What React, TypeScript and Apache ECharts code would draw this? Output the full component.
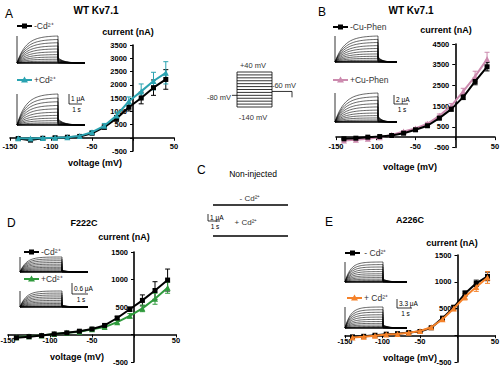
import React, { useEffect, useRef } from "react";
import * as echarts from "echarts";

const FONT = '"Liberation Sans", Arial, sans-serif';

// Test potentials (mV)
const voltages = [-140, -125, -110, -95, -80, -65, -50, -35, -20, -5, 10, 25, 40];

// Panel A: WT Kv7.1, -Cd / +Cd
const aCtrl = [-30, -90, -20, 0, 20, 50, 170, 400, 730, 1150, 1500, 1890, 2200];
const aCtrlErr = [20, 20, 20, 20, 20, 30, 50, 80, 110, 140, 220, 290, 370];
const aCd = [-20, -30, -10, 0, 20, 70, 210, 450, 840, 1380, 1750, 2140, 2450];
const aCdErr = [20, 20, 20, 20, 20, 30, 60, 90, 130, 160, 280, 330, 420];

// Panel B: WT Kv7.1, -Cu-Phen / +Cu-Phen
const bCtrl = [-80, -50, 0, 30, 80, 190, 355, 550, 920, 1355, 1935, 2690, 3400];
const bCtrlErr = [20, 20, 20, 20, 20, 30, 40, 60, 80, 100, 120, 160, 200];
const bCu = [-160, -130, -80, -10, 110, 270, 420, 645, 1030, 1516, 2210, 2935, 3770];
const bCuErr = [30, 30, 30, 30, 30, 40, 50, 70, 90, 110, 150, 250, 330];

// Panel D: F222C
const dCtrl = [-60, -40, -20, 10, 30, 60, 100, 165, 300, 460, 620, 800, 990];
const dCtrlErr = [10, 10, 10, 10, 10, 15, 20, 25, 30, 40, 100, 160, 200];
const dCd = [-50, -30, -20, 10, 30, 50, 95, 135, 225, 340, 475, 650, 850];
const dCdErr = [10, 10, 10, 10, 10, 15, 20, 25, 30, 40, 60, 100, 100];

// Panel E: A226C
const eCtrl = [-30, -20, 0, 20, 30, 50, 70, 140, 320, 520, 780, 970, 1100];
const eCtrlErr = [10, 10, 10, 10, 10, 10, 15, 20, 30, 40, 50, 60, 80];
const eCd = [-40, -30, -10, 15, 25, 45, 80, 150, 300, 500, 720, 900, 1080];
const eCdErr = [10, 10, 10, 10, 10, 10, 15, 20, 30, 40, 60, 80, 110];

// Axis ranges
const xRange = { min: -150, max: 50, interval: 50 };
const yRangeA = { min: -500, max: 3500, interval: 500 };
const yRangeB = { min: -500, max: 4500, interval: 1000 };
const yRangeD = { min: -500, max: 1500, interval: 500 };
const yRangeE = { min: -500, max: 1500, interval: 500 };

// Protocol step potentials (mV)
const protocolSteps = [40, 25, 10, -5, -20, -35, -50, -65, -80, -95, -110, -125, -140];
const holdingMv = -80;
const tailMv = -60;

// relative amplitude of inset current sweeps
const traceLevels = [1.0, 0.87, 0.75, 0.63, 0.52, 0.41, 0.31, 0.22, 0.14, 0.07, 0.03, 0, 0];

const BLACK = "#000000";
const TEAL = "#2aa3b1";
const PINK = "#cc8aae";
const GREEN = "#2f9a3c";
const ORANGE = "#f5822a";

// grid boxes
const grids = [
  { left: 10, top: 45, width: 164, height: 106, y: yRangeA },
  { left: 336, top: 44, width: 159, height: 103.5, y: yRangeB },
  { left: 8, top: 252, width: 168, height: 110, y: yRangeD },
  { left: 345, top: 255, width: 150, height: 107, y: yRangeE },
];

function txt(x: number, y: number, text: string, size: number, opts: any = {}) {
  return {
    type: "text",
    x,
    y,
    silent: true,
    style: {
      text,
      fontSize: size,
      fontFamily: FONT,
      fontWeight: opts.bold ? "bold" : "normal",
      fill: opts.color || "#000",
      align: opts.align || "left",
      textAlign: opts.align || "left",
      verticalAlign: "middle",
      textVerticalAlign: "middle",
    },
  };
}

function ln(x1: number, y1: number, x2: number, y2: number, w = 1, color = "#000") {
  return { type: "line", silent: true, shape: { x1, y1, x2, y2 }, style: { stroke: color, lineWidth: w } };
}

function legendItem(x: number, y: number, color: string, marker: "rect" | "tri", label: string) {
  const els: any[] = [ln(x, y, x + 15, y, 2, color)];
  const cx = x + 7.5;
  if (marker === "rect") {
    els.push({ type: "rect", silent: true, shape: { x: cx - 2.5, y: y - 2.5, width: 5, height: 5 }, style: { fill: color } });
  } else {
    els.push({
      type: "polygon",
      silent: true,
      shape: { points: [[cx, y - 3.5], [cx - 3.5, y + 2.5], [cx + 3.5, y + 2.5]] },
      style: { fill: color },
    });
  }
  els.push(txt(x + 17, y, label, 8.5, { color: "#333" }));
  return els;
}

function traces(x0: number, x1: number, x2: number, top: number, base: number, tau: number, tailFrac: number) {
  const els: any[] = [];
  const H = base - top;
  const norm = 1 - Math.exp(-1 / tau);
  traceLevels.forEach((l) => {
    if (l <= 0) return;
    const pts: number[][] = [[x0, base]];
    const n = 30;
    for (let k = 0; k <= n; k++) {
      const t = k / n;
      pts.push([x0 + (x1 - x0) * t, base - (H * l * (1 - Math.exp(-t / tau))) / norm]);
    }
    const tail0 = H * l * tailFrac;
    const m = 14;
    for (let k = 0; k <= m; k++) {
      const t = k / m;
      pts.push([x1 + (x2 - x1) * 0.75 * t, base - tail0 * Math.exp(-t * 3.5)]);
    }
    pts.push([x2, base]);
    els.push({ type: "polyline", silent: true, shape: { points: pts }, style: { stroke: "#000", lineWidth: 0.6, fill: "none" } });
  });
  els.push(ln(x0, base, x0, top, 0.8));
  els.push(ln(x0, base, x2, base, 1.4));
  return els;
}

function scaleBar(x: number, yTop: number, yBot: number, len: number, amp: string) {
  return [
    ln(x, yTop, x, yBot, 0.8),
    ln(x, yBot, x + len, yBot, 0.8),
    txt(x + 2, (yTop + yBot) / 2 - 0.5, amp, 6.5),
    txt(x + len / 2 + 1, yBot + 5, "1 s", 6.5, { align: "center" }),
  ];
}

function protocol() {
  const L = 237, R = 272, T = 72, B = 107;
  const yOf = (mv: number) => T + ((40 - mv) / 180) * (B - T);
  const els: any[] = [];
  protocolSteps.forEach((mv) => els.push(ln(L, yOf(mv), R, yOf(mv), 0.8)));
  els.push(ln(L, T, L, B, 0.8));
  els.push(ln(R, T, R, B, 0.8));
  els.push(ln(L - 5, yOf(holdingMv), L, yOf(holdingMv), 0.8));
  els.push(ln(R, yOf(tailMv), 292, yOf(tailMv), 0.8));
  els.push(ln(292, yOf(tailMv), 292, yOf(holdingMv) + 2, 0.8));
  els.push(txt(253, 65, "+40 mV", 7.5, { align: "center", color: "#333" }));
  els.push(txt(253, 117, "-140 mV", 7.5, { align: "center", color: "#333" }));
  els.push(txt(219, 97, "-80 mV", 7.5, { align: "center", color: "#333" }));
  els.push(txt(284, 85, "-60 mV", 7.5, { align: "center", color: "#333" }));
  return els;
}

function panelC() {
  return [
    txt(197, 170, "C", 12),
    txt(253, 174, "Non-injected", 8.5, { align: "center" }),
    txt(250, 198, "- Cd²⁺", 8, { align: "center", color: "#333" }),
    ln(213, 205, 288, 205, 1.4),
    txt(246, 222, "+ Cd²⁺", 8, { align: "center", color: "#333" }),
    ln(213, 236, 288, 236, 1.4),
    ...scaleBar(208, 214, 221, 12, "1 μA"),
  ];
}

const hideZero = (v: number) => (v === 0 ? "" : String(v));

function xAx(gi: number, margin: number) {
  const g = grids[gi];
  // place the axis line at current = 0
  const off = -(g.height * (0 - g.y.min)) / (g.y.max - g.y.min);
  return {
    type: "value",
    gridIndex: gi,
    position: "bottom",
    offset: off,
    ...xRange,
    axisLine: { onZero: false, lineStyle: { color: "#000", width: 1.6 } },
    axisTick: { show: true, length: 3, lineStyle: { color: "#000", width: 1 } },
    axisLabel: {
      formatter: hideZero,
      fontSize: 7.5,
      fontWeight: "bold",
      fontFamily: FONT,
      color: "#000",
      margin,
      showMinLabel: true,
      showMaxLabel: true,
    },
    splitLine: { show: false },
  };
}

function yAx(gi: number) {
  const g = grids[gi];
  // place the axis line at voltage = 0
  const off = -(g.width * (0 - xRange.min)) / (xRange.max - xRange.min);
  return {
    type: "value",
    gridIndex: gi,
    position: "left",
    offset: off,
    ...g.y,
    axisLine: { show: true, onZero: false, lineStyle: { color: "#000", width: 1.6 } },
    axisTick: { show: true, length: 3, lineStyle: { color: "#000", width: 1 } },
    axisLabel: {
      formatter: hideZero,
      fontSize: 7.5,
      fontWeight: "bold",
      fontFamily: FONT,
      color: "#000",
      margin: 6,
      showMinLabel: true,
      showMaxLabel: true,
    },
    splitLine: { show: false },
  };
}

function lineSeries(gi: number, vals: number[], color: string, symbol: string, size: number, z: number) {
  return {
    type: "line",
    xAxisIndex: gi,
    yAxisIndex: gi,
    data: voltages.map((v, i) => [v, vals[i]]),
    symbol,
    symbolSize: size,
    showAllSymbol: true,
    lineStyle: { color, width: 2 },
    itemStyle: { color },
    z,
    silent: true,
  };
}

function errSeries(gi: number, vals: number[], errs: number[], color: string, z: number) {
  return {
    type: "custom",
    xAxisIndex: gi,
    yAxisIndex: gi,
    data: voltages.map((v, i) => [v, vals[i], errs[i]]),
    z,
    silent: true,
    renderItem: (_p: any, api: any) => {
      const x = api.value(0);
      const y = api.value(1);
      const e = api.value(2);
      const t = api.coord([x, y + e]);
      const b = api.coord([x, y - e]);
      const hw = 2.5;
      const st = { stroke: color, lineWidth: 1 };
      return {
        type: "group",
        children: [
          { type: "line", shape: { x1: t[0], y1: t[1], x2: b[0], y2: b[1] }, style: st },
          { type: "line", shape: { x1: t[0] - hw, y1: t[1], x2: t[0] + hw, y2: t[1] }, style: st },
          { type: "line", shape: { x1: b[0] - hw, y1: b[1], x2: b[0] + hw, y2: b[1] }, style: st },
        ],
      };
    },
  };
}

export default function App() {
  const ref = useRef<HTMLDivElement>(null);
  useEffect(() => {
    document.body.style.margin = "0";
    const chart = echarts.init(ref.current!, null, { renderer: "svg" });
    const option: any = {
      animation: false,
      backgroundColor: "#ffffff",
      grid: grids.map((g) => ({
        left: g.left,
        top: g.top,
        width: g.width,
        height: g.height,
        containLabel: false,
        outerBoundsMode: "none",
        show: false,
      })),
      xAxis: [xAx(0, 5), xAx(1, 5), xAx(2, 2), xAx(3, 2)],
      yAxis: [yAx(0), yAx(1), yAx(2), yAx(3)],
      series: [
        errSeries(0, aCtrl, aCtrlErr, BLACK, 2),
        errSeries(0, aCd, aCdErr, TEAL, 2),
        lineSeries(0, aCtrl, BLACK, "rect", 5, 4),
        lineSeries(0, aCd, TEAL, "triangle", 6, 5),

        errSeries(1, bCu, bCuErr, PINK, 2),
        errSeries(1, bCtrl, bCtrlErr, BLACK, 2),
        lineSeries(1, bCu, PINK, "triangle", 6, 4),
        lineSeries(1, bCtrl, BLACK, "rect", 5, 5),

        errSeries(2, dCtrl, dCtrlErr, BLACK, 2),
        errSeries(2, dCd, dCdErr, GREEN, 2),
        lineSeries(2, dCd, GREEN, "triangle", 6, 4),
        lineSeries(2, dCtrl, BLACK, "rect", 5, 5),

        errSeries(3, eCtrl, eCtrlErr, BLACK, 2),
        errSeries(3, eCd, eCdErr, ORANGE, 2),
        lineSeries(3, eCtrl, BLACK, "rect", 5, 4),
        lineSeries(3, eCd, ORANGE, "triangle", 6, 5),
      ],
      graphic: {
        elements: [
          // Panel A
          txt(5, 14, "A", 12),
          txt(96, 10, "WT Kv7.1", 10, { bold: true, align: "center" }),
          txt(128, 32, "current (nA)", 9, { bold: true, align: "center" }),
          txt(95, 163, "voltage (mV)", 9, { bold: true, align: "center" }),
          ...legendItem(17, 26, BLACK, "rect", "-Cd²⁺"),
          ...traces(17, 58, 85, 36, 63, 0.22, 0.2),
          ...legendItem(17, 80, TEAL, "tri", "+Cd²⁺"),
          ...traces(17, 58, 85, 94, 125, 0.22, 0.2),
          ...scaleBar(69, 94, 104, 13, "1 μA"),

          // Protocol
          ...protocol(),

          // Panel B
          txt(318, 12, "B", 12),
          txt(411, 10, "WT Kv7.1", 10, { bold: true, align: "center" }),
          txt(446, 30, "current (nA)", 9, { bold: true, align: "center" }),
          txt(410, 167, "voltage (mV)", 9, { bold: true, align: "center" }),
          ...legendItem(333, 27, BLACK, "rect", "-Cu-Phen"),
          ...traces(335, 378, 397, 36, 62, 0.22, 0.2),
          ...legendItem(333, 80, PINK, "tri", "+Cu-Phen"),
          ...traces(335, 378, 397, 93, 122, 0.22, 0.2),
          ...scaleBar(394, 95, 104, 14, "2 μA"),

          // Panel C
          ...panelC(),

          // Panel D
          txt(7, 223, "D", 12),
          txt(84, 223, "F222C", 9, { bold: true, align: "center" }),
          txt(124, 237, "current (nA)", 9, { bold: true, align: "center" }),
          txt(77, 357, "voltage (mV)", 9, { bold: true, align: "center" }),
          ...legendItem(24, 252, BLACK, "rect", "-Cd²⁺"),
          ...traces(20, 62, 88, 257, 272, 0.15, 0.12),
          ...legendItem(24, 279, GREEN, "tri", "+Cd²⁺"),
          ...traces(20, 62, 88, 291, 307, 0.15, 0.12),
          ...scaleBar(72, 283, 294, 16, "0.6 μA"),

          // Panel E
          txt(325, 222, "E", 12),
          txt(410, 220, "A226C", 9, { bold: true, align: "center" }),
          txt(452, 243, "current (nA)", 9, { bold: true, align: "center" }),
          txt(410, 358, "voltage (mV)", 9, { bold: true, align: "center" }),
          ...legendItem(345, 253, BLACK, "rect", " - Cd²⁺"),
          ...traces(345, 383, 407, 262, 282, 0.15, 0.15),
          ...legendItem(347, 298, ORANGE, "tri", "+ Cd²⁺"),
          ...traces(345, 383, 407, 307, 328, 0.15, 0.15),
          ...scaleBar(397, 299, 308, 15, "3.3 μA"),
        ],
      },
    };
    chart.setOption(option);
    return () => chart.dispose();
  }, []);
  return <div ref={ref} style={{ position: "absolute", left: 0, top: 0, width: 500, height: 365 }} />;
}
